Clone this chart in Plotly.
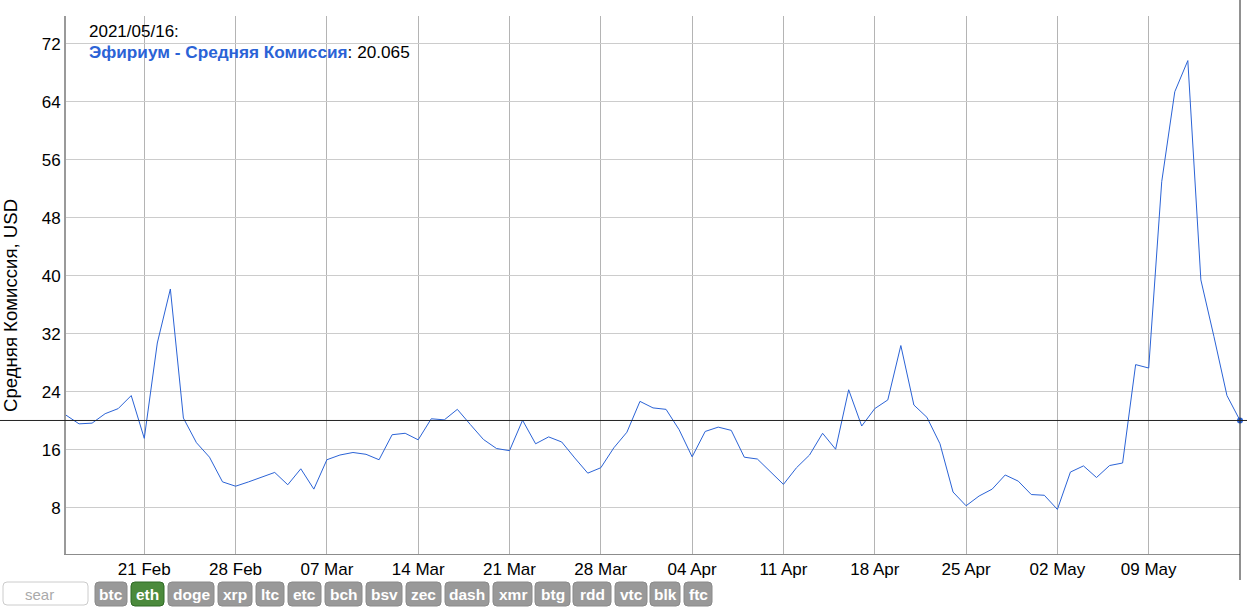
import plotly.graph_objects as go
import pandas as pd

# ---------------- data ----------------
start_date = "2021-02-15"
fee_values = [
    20.8, 19.6, 19.7, 21.0, 21.7, 23.5, 17.6, 30.75, 38.2, 20.4,
    17.0, 15.0, 11.6, 11.0, 11.6, 12.2, 12.9, 11.2, 13.4, 10.6,
    14.65, 15.3, 15.65, 15.4, 14.65, 18.1, 18.3, 17.4, 20.3, 20.15,
    21.6, 19.5, 17.45, 16.2, 15.9, 20.1, 16.85, 17.8, 17.1, 14.9,
    12.8, 13.55, 16.3, 18.45, 22.7, 21.8, 21.6, 18.8, 15.05, 18.55,
    19.15, 18.7, 15.0, 14.75, 12.95, 11.25, 13.55, 15.3, 18.3, 16.1,
    24.3, 19.3, 21.7, 22.9, 30.4, 22.2, 20.5, 16.85, 10.2, 8.3,
    9.65, 10.6, 12.55, 11.7, 9.85, 9.75, 7.8, 12.95, 13.8, 12.2,
    13.85, 14.2, 27.77, 27.3, 53.0, 65.4, 69.7, 39.45, 31.65, 23.5,
    20.065,
]
dates = pd.date_range(start_date, periods=len(fee_values), freq="D")

tick_dates = ["2021-02-21", "2021-02-28", "2021-03-07", "2021-03-14",
              "2021-03-21", "2021-03-28", "2021-04-04", "2021-04-11",
              "2021-04-18", "2021-04-25", "2021-05-02", "2021-05-09"]
tick_labels = ["21 Feb", "28 Feb", "07 Mar", "14 Mar", "21 Mar", "28 Mar",
               "04 Apr", "11 Apr", "18 Apr", "25 Apr", "02 May", "09 May"]
y_ticks = [8, 16, 24, 32, 40, 48, 56, 64, 72]

series_name = "Эфириум - Средняя Комиссия"
y_title = "Средняя Комиссия, USD"
selected_label = "2021/05/16:"
selected_value = "20.065"

coins = ["btc", "eth", "doge", "xrp", "ltc", "etc", "bch", "bsv", "zec",
         "dash", "xmr", "btg", "rdd", "vtc", "blk", "ftc"]
coin_spans = [(95, 127), (131, 164), (168, 214), (218, 252), (256, 284),
              (288, 321), (325, 362), (366, 402), (406, 441), (445, 489),
              (493, 532), (535, 570), (573, 611), (615, 647), (650, 680),
              (684, 712)]
active_coin = "eth"

# ---------------- layout geometry ----------------
W, H = 1247, 612
ML, MR, MT, MB = 66, 7, 16, 58
PW = W - ML - MR
PH = H - MT - MB
FONT = "Liberation Sans, Arial, Helvetica, sans-serif"
LINE_COLOR = "#2b63d6"


def px(x):
    return (x - ML) / PW


def py(y):
    return (MT + PH - y) / PH


def rrect(x0, y0, x1, y1, r):
    return (f"M {px(x0 + r)},{py(y0)} L {px(x1 - r)},{py(y0)} "
            f"Q {px(x1)},{py(y0)} {px(x1)},{py(y0 + r)} "
            f"L {px(x1)},{py(y1 - r)} Q {px(x1)},{py(y1)} {px(x1 - r)},{py(y1)} "
            f"L {px(x0 + r)},{py(y1)} Q {px(x0)},{py(y1)} {px(x0)},{py(y1 - r)} "
            f"L {px(x0)},{py(y0 + r)} Q {px(x0)},{py(y0)} {px(x0 + r)},{py(y0)} Z")


fig = go.Figure()
fig.add_trace(go.Scatter(
    x=dates, y=fee_values, mode="lines",
    line=dict(color=LINE_COLOR, width=1),
    hoverinfo="skip", showlegend=False,
))
fig.add_trace(go.Scatter(
    x=[dates[-1]], y=[fee_values[-1]], mode="markers",
    marker=dict(color=LINE_COLOR, size=6),
    cliponaxis=False, hoverinfo="skip", showlegend=False,
))

shapes = []
# crosshair
shapes.append(dict(type="line", xref="paper", yref="y",
                   x0=px(0), x1=px(W), y0=fee_values[-1], y1=fee_values[-1],
                   line=dict(color="#222222", width=1), layer="above"))
shapes.append(dict(type="line", xref="paper", yref="paper",
                   x0=1, x1=1, y0=py(580), y1=py(0),
                   line=dict(color="#222222", width=1), layer="above"))

annotations = []
# search box
shapes.append(dict(type="path", xref="paper", yref="paper",
                   path=rrect(3, 582, 88, 605, 4),
                   fillcolor="white", line=dict(color="#cccccc", width=1)))
annotations.append(dict(xref="paper", yref="paper", x=px(39), y=py(594),
                        text="sear", showarrow=False, xanchor="center",
                        yanchor="middle",
                        font=dict(family=FONT, size=15, color="#aaaaaa")))
# coin buttons
for name, (x0, x1) in zip(coins, coin_spans):
    active = name == active_coin
    fill = "#4b8a3c" if active else "#999999"
    border = "#2f6a25" if active else "#8a8a8a"
    shapes.append(dict(type="path", xref="paper", yref="paper",
                       path=rrect(x0, 582, x1, 606, 4),
                       fillcolor=fill, line=dict(color=border, width=1)))
    annotations.append(dict(xref="paper", yref="paper", x=px((x0 + x1) / 2),
                            y=py(594), text=f"<b>{name}</b>", showarrow=False,
                            xanchor="center", yanchor="middle",
                            font=dict(family=FONT, size=15.5, color="white")))

# legend / selection text
annotations.append(dict(xref="paper", yref="paper", x=px(87), y=py(31),
                        text=selected_label, showarrow=False,
                        xanchor="left", yanchor="middle",
                        font=dict(family=FONT, size=17, color="black")))
annotations.append(dict(xref="paper", yref="paper", x=px(87), y=py(52),
                        text=f"<b><span style='color:{LINE_COLOR}'>{series_name}</span></b>: {selected_value}",
                        showarrow=False, xanchor="left", yanchor="middle",
                        font=dict(family=FONT, size=17.2, color="black")))
# y title
annotations.append(dict(xref="paper", yref="paper", x=px(10), y=py(306),
                        text=y_title, textangle=-90, showarrow=False,
                        xanchor="center", yanchor="middle",
                        font=dict(family=FONT, size=18.6, color="black")))

fig.update_layout(
    width=W, height=H,
    margin=dict(l=ML, r=MR, t=MT, b=MB, pad=0),
    paper_bgcolor="white", plot_bgcolor="white",
    font=dict(family=FONT, size=17, color="black"),
    shapes=shapes, annotations=annotations,
    hovermode=False, showlegend=False,
)
fig.update_xaxes(
    type="date", range=[dates[0], dates[-1]],
    tickmode="array", tickvals=tick_dates, ticktext=tick_labels,
    showgrid=True, gridcolor="#b4b4b4", gridwidth=1,
    showline=True, linecolor="#8c8c8c", linewidth=1,
    ticks="", ticklabelstandoff=0, zeroline=False, automargin=False,
    tickfont=dict(family=FONT, size=17, color="black"),
)
fig.update_yaxes(
    range=[1.65, 75.85],
    tickmode="array", tickvals=y_ticks, ticktext=[str(v) for v in y_ticks],
    showgrid=True, gridcolor="#cccccc", gridwidth=1,
    showline=True, linecolor="#9a9a9a", linewidth=2,
    ticks="", ticklabelstandoff=0, zeroline=False, automargin=False,
    tickfont=dict(family=FONT, size=17, color="black"),
)

fig.write_html("out.html", config={"displayModeBar": False},
               post_script="document.body.style.margin='0';document.body.style.padding='0';")
